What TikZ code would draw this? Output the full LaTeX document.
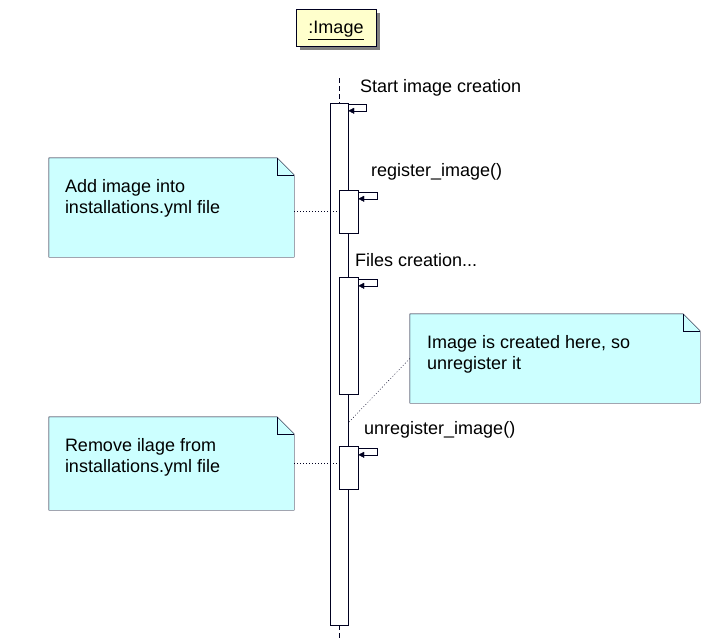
\documentclass[tikz,border=0pt]{standalone}
\usepackage{fontspec}
\setmainfont{Liberation Sans}
\usetikzlibrary{positioning,shadows,arrows.meta}
\definecolor{noteblue}{RGB}{204,255,255}
\definecolor{headyellow}{RGB}{255,255,204}
\definecolor{linenavy}{RGB}{0,0,32}

\begin{document}
\begin{tikzpicture}[x=1pt, y=-1pt,
        every node/.style={font=\fontsize{18}{21}\selectfont},
        head/.style={draw=linenavy, fill=headyellow, minimum width=80pt, minimum height=37pt, inner sep=0,
            text depth=0pt, drop shadow={shadow xshift=4pt, shadow yshift=-4pt, fill=gray, opacity=1}},
        bar/.style={draw=linenavy, fill=white, minimum width=18pt, inner sep=0},
        inbar/.style={bar, minimum width=19pt, minimum height=43pt},
        notebox/.style={inner sep=0},
        notetext/.style={align=left, inner sep=0},
        msg/.style={anchor=west, inner sep=0},
        lifeline/.style={draw=linenavy, dash pattern=on 5pt off 3pt},
        call/.style={draw=linenavy, -{Triangle[length=6pt,width=6pt]}},
        link/.style={draw=linenavy, dash pattern=on 1pt off 2pt}
    ]
    \useasboundingbox (0,0) rectangle (714,641);

    % object head
    \node[head] (img) at (336,27.5) {\underline{:Image}};

    % lifeline and activations
    \node[bar, minimum height=522pt] (life) at (339,364) {};
    \coordinate (lifetop) at (339,78);
    \coordinate (lifebot) at (339,641);
    \draw[lifeline] (lifetop) -- (life.north);
    \draw[lifeline] (life.south) -- (lifebot);

    \node[inbar] (bar1) at (348.5,211.5) {};
    \node[inbar, minimum height=117pt] (bar2) at (348.5,335.5) {};
    \node[inbar] (bar3) at (348.5,467.5) {};

    % self calls
    \draw[call] ([yshift=-1pt]life.north east) -- ++(18,0) |- ([yshift=-8pt]life.north east);
    \foreach \b in {bar1,bar2,bar3}
        \draw[call] ([yshift=-2pt]\b.north east) -- ++(19,0) |- ([yshift=-9pt]\b.north east);

    \node[msg] (mStart) at (360,87.5) {Start image creation};
    \node[msg] (mReg) at (371,172) {register\_image()};
    \node[msg] (mFiles) at (355,260) {Files creation...};
    \node[msg] (mUnreg) at (364,429.5) {unregister\_image()};

    % notes
    \node[notebox, minimum width=245pt, minimum height=99pt] (n1) at (171.5,207.5) {};
    \node[notebox, minimum width=290pt, minimum height=89pt] (n2) at (555,358.5) {};
    \node[notebox, minimum width=245pt, minimum height=93pt] (n3) at (171.5,463.5) {};
    \foreach \n in {n1,n2,n3} {
        \draw[draw=linenavy, fill=noteblue] (\n.north west) -- ([xshift=-17pt]\n.north east)
            -- ([yshift=-17pt]\n.north east) -- (\n.south east) -- (\n.south west) -- cycle;
        \draw[draw=linenavy] ([xshift=-17pt]\n.north east) |- ([yshift=-17pt]\n.north east);
    }
    \node[notetext, below right=21pt and 16pt of n1.north west] (t1) {Add image into\\installations.yml file};
    \node[notetext, below right=21pt and 17pt of n2.north west] (t2) {Image is created here, so\\unregister it};
    \node[notetext, below right=21pt and 16pt of n3.north west] (t3) {Remove ilage from\\installations.yml file};

    % note links
    \coordinate (c2) at (348,423);
    \draw[link] (bar1.west -| n1.east) -- (bar1.west);
    \draw[link] (n2.west) -- (c2);
    \draw[link] (n3.east) -- (n3.east -| bar3.west);

\end{tikzpicture}
\end{document}
